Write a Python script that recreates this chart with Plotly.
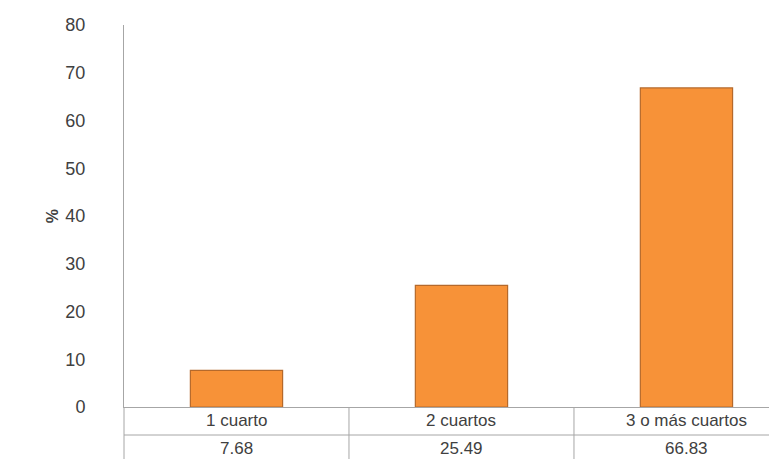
import plotly.graph_objects as go

categories = ["1 cuarto", "2 cuartos", "3 o más cuartos"]
values = [7.68, 25.49, 66.83]
y_ticks = [0, 10, 20, 30, 40, 50, 60, 70, 80]

FONT = "Liberation Sans Narrow, Arial Narrow, Liberation Sans, Arial, sans-serif"
GRID = "#A6A6A6"
TXT = "#404040"

fig = go.Figure()
fig.add_trace(go.Bar(
    x=list(range(len(categories))), y=values, width=0.41,
    marker=dict(color="#F79238", line=dict(color="#B5692B", width=1.2)),
    hoverinfo="skip",
))

# plot spans 124..799 px in the original; window cut at 777
fig.update_xaxes(range=[-0.5, 2.398], showticklabels=False, showgrid=False,
                 zeroline=False, showline=True, linecolor=GRID, linewidth=1,
                 ticks="", fixedrange=True)
fig.update_yaxes(range=[0, 80], tickvals=y_ticks, showgrid=False, zeroline=False,
                 showline=True, linecolor=GRID, linewidth=1, ticks="",
                 ticklabelstandoff=34,
                 tickfont=dict(family=FONT, size=18, color=TXT))

shapes = []
shapes.append(dict(type="line", xref="paper", yref="paper", x0=0, x1=1,
                   y0=-0.0733, y1=-0.0733, line=dict(color=GRID, width=1)))
shapes.append(dict(type="line", xref="paper", yref="paper", x0=0, x1=0,
                   y0=0, y1=-0.16, line=dict(color=GRID, width=1)))
for i in range(1, len(categories)):
    shapes.append(dict(type="line", xref="x", yref="paper", x0=i - 0.5, x1=i - 0.5,
                       y0=0, y1=-0.16, line=dict(color=GRID, width=1)))

annotations = [dict(x=-0.126, y=0.5, xref="paper", yref="paper", text="<b>%</b>",
                    textangle=-90, showarrow=False,
                    font=dict(family=FONT, size=16, color=TXT))]
for i, (c, v) in enumerate(zip(categories, values)):
    annotations.append(dict(x=i, y=-0.0366, xref="x", yref="paper", text=c,
                            showarrow=False, yanchor="middle",
                            font=dict(family=FONT, size=17, color=TXT)))
    annotations.append(dict(x=i, y=-0.108, xref="x", yref="paper", text=f"{v:.2f}",
                            showarrow=False, yanchor="middle",
                            font=dict(family=FONT, size=17, color=TXT)))

fig.update_layout(
    width=769, height=451,
    margin=dict(l=116, r=1, t=17, b=52),
    plot_bgcolor="white", paper_bgcolor="white",
    showlegend=False, shapes=shapes, annotations=annotations,
)

fig.write_html("out.html")
